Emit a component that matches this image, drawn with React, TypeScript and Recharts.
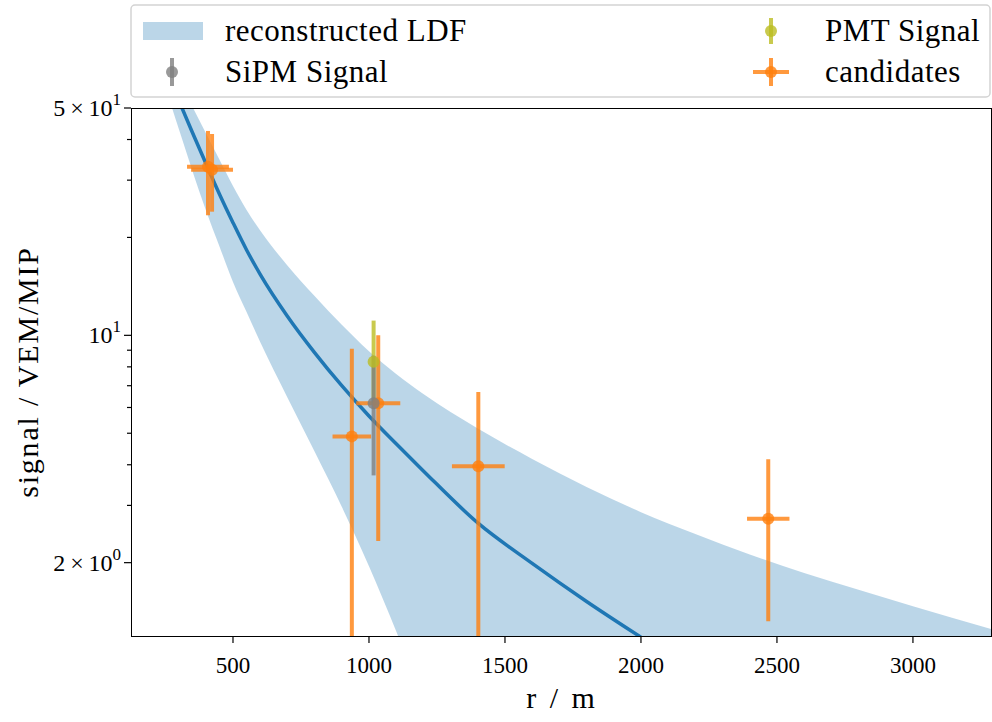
import React from 'react'
import { ComposedChart, Area, Line, Scatter, XAxis, YAxis, ErrorBar, Label } from 'recharts'

const FONT = '"Liberation Serif", "DejaVu Serif", serif'

// reconstructed LDF, sampled along r (m)
const ldfR = [276, 300, 350, 400, 450, 500, 550, 600, 700, 800, 900, 1000, 1100, 1200, 1400, 1600, 1800, 2000, 2200, 2400, 2600, 2800, 3000, 3287]
const ldfFit = [null, 52.9, 42.2, 33.8, 27.2, 22.2, 18.3, 15.4, 11.45, 8.85, 7.0, 5.65, 4.64, 3.83, 2.65, 1.99, 1.52, 1.18, null, null, null, null, null, null]
const ldfLow = [50, 43.3, 32.2, 24.3, 18.8, 14.6, 11.8, 9.54, 6.44, 4.39, 2.97, 1.95, 1.23, 0.75, 0.5, 0.5, 0.5, 0.5, 0.5, 0.5, 0.5, 0.5, 0.5, 0.5]
const ldfHigh = [67, 61.3, 50.6, 41.9, 34.7, 28.8, 24.3, 21.0, 16.4, 13.2, 10.77, 8.93, 7.6, 6.6, 5.17, 4.17, 3.42, 2.86, 2.45, 2.12, 1.86, 1.65, 1.47, 1.25]

// candidates
const candR = [408, 423, 937, 1034, 1402, 2468]
const candS = [33.0, 32.3, 4.89, 6.18, 3.96, 2.73]
const candLow = [23.4, 24.0, 1.19, 2.33, 1.19, 1.32]
const candHigh = [42.5, 41.6, 9.1, 10.0, 6.69, 4.16]
const candRErr = [77, 77, 71, 81, 97, 78]

// PMT / SiPM station
const pmtR = [1017]
const pmtS = [8.29]
const pmtLow = [6.19]
const pmtHigh = [11.1]

const sipmR = [1017]
const sipmS = [6.18]
const sipmLow = [3.71]
const sipmHigh = [8.65]

const xTicks = [500, 1000, 1500, 2000, 2500, 3000]
const yMajor = [2, 10, 50]
const yMajorLabels = [['2\u2009×\u200910', '0'], ['10', '1'], ['5\u2009×\u200910', '1']]
const yMinor = [3, 4, 5, 6, 7, 8, 9, 20, 30, 40]

const BLUE = '#1f77b4'
const ORANGE = '#ff7f0e'
const OLIVE = '#bcbd22'
const GRAY = '#7f7f7f'

const bandData = ldfR.map((r, i) => ({ r, fit: ldfFit[i], band: [ldfLow[i], ldfHigh[i]] }))

function points(rs: number[], ss: number[], lo: number[], hi: number[], rErr?: number[]) {
  return rs.map((r, i) => ({
    r,
    s: ss[i],
    sErr: [ss[i] - lo[i], hi[i] - ss[i]],
    rErr: rErr ? rErr[i] : 0,
  }))
}

const candData = points(candR, candS, candLow, candHigh, candRErr)
const pmtData = points(pmtR, pmtS, pmtLow, pmtHigh)
const sipmData = points(sipmR, sipmS, sipmLow, sipmHigh)

function dot(color: string) {
  return (p: any) => <circle cx={p.cx} cy={p.cy} r={6} fill={color} fillOpacity={0.8} />
}

function YTick(props: any) {
  const { x, y, payload } = props
  const i = yMajor.indexOf(payload.value)
  const major = i >= 0
  return (
    <g>
      <line x1={x} x2={x - (major ? 7 : 4)} y1={y} y2={y} stroke="#000" strokeWidth={1.2} />
      {major && (
        <text x={x - 10} y={y} textAnchor="end" dominantBaseline="central" fontFamily={FONT} fontSize={24} fill="#000">
          {yMajorLabels[i][0]}
          <tspan dy={-9} fontSize={17}>{yMajorLabels[i][1]}</tspan>
        </text>
      )}
    </g>
  )
}

function YTitle(props: any) {
  const { viewBox } = props
  const cy = viewBox.y + viewBox.height / 2
  return (
    <text transform={`translate(38, ${cy}) rotate(-90)`} textAnchor="middle" fontFamily={FONT} fontSize={30} letterSpacing={1.8} fill="#000">
      signal / VEM/MIP
    </text>
  )
}

function XTitle(props: any) {
  const { viewBox } = props
  const cx = viewBox.x + viewBox.width / 2
  return (
    <text x={cx + 1} y={708} textAnchor="middle" fontFamily={FONT} fontSize={30} letterSpacing={3} fill="#000">
      r / m
    </text>
  )
}

function LegendBox() {
  const txt = { fontFamily: FONT, fontSize: 31, letterSpacing: 0.5, fill: '#000' }
  return (
    <svg width={992} height={100} style={{ position: 'absolute', left: 0, top: 0, pointerEvents: 'none' }}>
      <rect x={131} y={5} width={859} height={92} rx={4} fill="#fff" fillOpacity={0.8} stroke="#d3d3d3" strokeWidth={1.5} />
      <rect x={143} y={22} width={60} height={18} fill={BLUE} fillOpacity={0.3} />
      <text x={225} y={41} {...txt}>reconstructed LDF</text>

      <line x1={172} x2={172} y1={58} y2={86} stroke={GRAY} strokeOpacity={0.8} strokeWidth={4} />
      <circle cx={172} cy={72} r={6} fill={GRAY} fillOpacity={0.8} />
      <text x={225} y={82} {...txt}>SiPM Signal</text>

      <line x1={771} x2={771} y1={18} y2={44} stroke={OLIVE} strokeOpacity={0.8} strokeWidth={4} />
      <circle cx={771} cy={31} r={6} fill={OLIVE} fillOpacity={0.8} />
      <text x={825} y={41} {...txt}>PMT Signal</text>

      <line x1={771} x2={771} y1={58} y2={86} stroke={ORANGE} strokeOpacity={0.8} strokeWidth={4} />
      <line x1={753} x2={789} y1={72} y2={72} stroke={ORANGE} strokeOpacity={0.8} strokeWidth={4} />
      <circle cx={771} cy={72} r={6} fill={ORANGE} fillOpacity={0.8} />
      <text x={825} y={82} {...txt}>candidates</text>
    </svg>
  )
}

export default function App() {
  return (
    <div style={{ position: 'relative', width: 992, height: 722, background: '#fff' }}>
      <style>{'body{margin:0}'}</style>
      <ComposedChart width={992} height={722} data={bandData} margin={{ top: 108, right: 1, left: 0, bottom: 0 }}>
        <XAxis
          type="number"
          dataKey="r"
          domain={[125, 3287]}
          allowDataOverflow
          ticks={xTicks}
          interval={0}
          tickSize={7}
          tickMargin={14}
          height={86}
          axisLine={false}
          tickLine={{ stroke: '#000', strokeWidth: 1.2 }}
          tick={{ fontSize: 23, fill: '#000', fontFamily: FONT }}
        >
          <Label content={XTitle} />
        </XAxis>
        <YAxis
          type="number"
          dataKey="s"
          scale="log"
          domain={[1.19, 50]}
          allowDataOverflow
          ticks={[...yMajor, ...yMinor]}
          interval={0}
          width={131}
          tickSize={0}
          tickMargin={0}
          axisLine={false}
          tickLine={false}
          tick={YTick}
        >
          <Label content={YTitle} />
        </YAxis>

        <Area
          type="monotone"
          dataKey="band"
          stroke="none"
          fill={BLUE}
          fillOpacity={0.3}
          isAnimationActive={false}
          activeDot={false}
        />
        <Line
          type="monotone"
          dataKey="fit"
          stroke={BLUE}
          strokeWidth={3.5}
          dot={false}
          activeDot={false}
          isAnimationActive={false}
        />

        <Scatter data={candData} dataKey="s" shape={dot(ORANGE)} isAnimationActive={false}>
          <ErrorBar dataKey="sErr" direction="y" width={0} stroke={ORANGE} strokeOpacity={0.8} strokeWidth={4} />
          <ErrorBar dataKey="rErr" direction="x" width={0} stroke={ORANGE} strokeOpacity={0.8} strokeWidth={4} />
        </Scatter>
        <Scatter data={pmtData} dataKey="s" shape={dot(OLIVE)} isAnimationActive={false}>
          <ErrorBar dataKey="sErr" direction="y" width={0} stroke={OLIVE} strokeOpacity={0.8} strokeWidth={4} />
        </Scatter>
        <Scatter data={sipmData} dataKey="s" shape={dot(GRAY)} isAnimationActive={false}>
          <ErrorBar dataKey="sErr" direction="y" width={0} stroke={GRAY} strokeOpacity={0.8} strokeWidth={4} />
        </Scatter>
      </ComposedChart>

      <div
        style={{
          position: 'absolute',
          left: 130.5,
          top: 107.5,
          width: 861,
          height: 529,
          border: '1.3px solid #000',
          boxSizing: 'border-box',
          pointerEvents: 'none',
        }}
      />
      <LegendBox />
    </div>
  )
}
